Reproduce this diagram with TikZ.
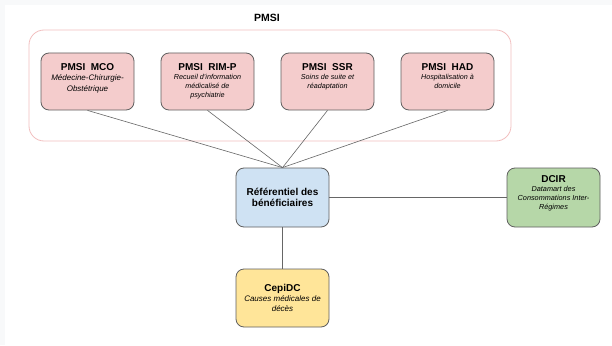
\documentclass[tikz,border=0pt]{standalone}
\usepackage{fontspec}
\setmainfont{Liberation Sans}
\definecolor{pmsifill}{HTML}{F4CCCC}
\definecolor{reffill}{HTML}{CFE2F3}
\definecolor{dcirfill}{HTML}{B6D7A8}
\definecolor{cepifill}{HTML}{FFE599}
\definecolor{edge}{HTML}{5F5F5F}
\definecolor{grpline}{HTML}{F2BFBF}
\definecolor{wire}{HTML}{666666}
\definecolor{pagegray}{HTML}{F8F9FA}
\newcommand\boxhead[1]{{\fontsize{10}{12}\selectfont\bfseries\upshape #1}}
\begin{document}
\begin{tikzpicture}[x=1pt,y=-1pt,line join=round,
	box/.style={draw=edge,line width=0.8pt,rounded corners=8pt,minimum width=93pt,minimum height=57pt,inner sep=1pt,align=center,font=\fontsize{7.2}{9}\selectfont\itshape},
	grp/.style={draw=grpline,line width=0.8pt,rounded corners=15pt,minimum width=482pt,minimum height=111pt},
	wire/.style={draw=wire,line width=0.6pt}]
	\fill[pagegray] (0,0) rectangle (612,345);
	\fill[white] (5,5) rectangle (612,345);
	\node[grp] (grp) at (270,85.5) {};
	\node[font=\fontsize{10.5}{12}\selectfont\bfseries] (pmsi) at (267,18) {PMSI};
	% PMSI sources
	\node[box,fill=pmsifill,font=\fontsize{8}{10.5}\selectfont\itshape,text depth=8pt] (mco) at (87.5,81.5) {\boxhead{PMSI\ \ MCO}\\Médecine-Chirurgie-\\Obstétrique};
	\node[box,fill=pmsifill] (rimp) at (207.5,81.5) {\boxhead{PMSI\ \ RIM-P}\\Recueil d'information\\médicalisé de\\psychiatrie};
	\node[box,fill=pmsifill,text depth=11pt] (ssr) at (327.5,81.5) {\boxhead{PMSI\ \ SSR}\\Soins de suite et\\réadaptation};
	\node[box,fill=pmsifill,text depth=11pt] (had) at (447.5,81.5) {\boxhead{PMSI\ \ HAD}\\Hospitalisation à\\domicile};
	% referentiel + other bases
	\node[box,fill=reffill,minimum height=59pt,font=\fontsize{10}{11.5}\selectfont\bfseries] (ref) at (282.5,197.5) {Référentiel des\\bénéficiaires};
	\node[box,fill=dcirfill,minimum height=59pt,font=\fontsize{7.3}{9}\selectfont\itshape,text depth=9pt] (dcir) at (553.5,197.5) {\boxhead{DCIR}\\Datamart des\\Consommations Inter-\\Régimes};
	\node[box,fill=cepifill,minimum height=58pt,font=\fontsize{8}{10.3}\selectfont\itshape] (cepidc) at (282.5,298) {\boxhead{CepiDC}\\Causes médicales de\\décès};
	\foreach \src in {mco,rimp,ssr,had}
		\draw[wire] (\src.south)--(ref.north);
	\draw[wire] (ref.east)--(dcir.west);
	\draw[wire] (ref.south)--(cepidc.north);
\end{tikzpicture}
\end{document}
